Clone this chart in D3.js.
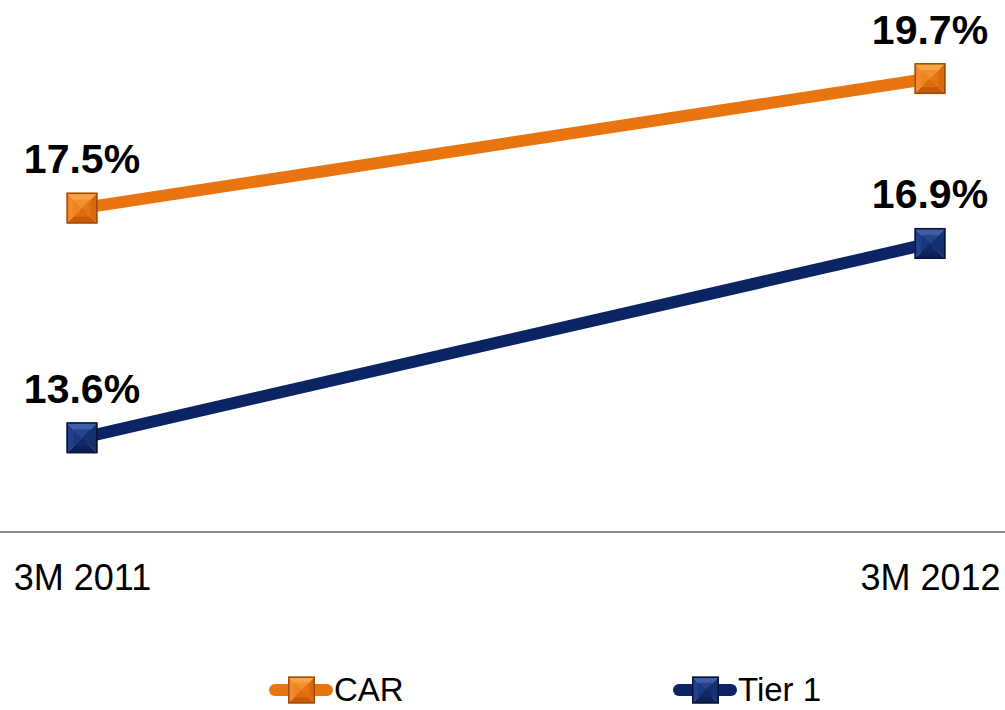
<!DOCTYPE html>
<html><head><meta charset="utf-8">
<script src="https://cdn.jsdelivr.net/npm/d3@7"></script>
<style>html,body{margin:0;padding:0;background:#fff;}svg{display:block;}</style>
</head><body>
<svg id="chart" width="1005" height="710"></svg>
<script>
const categories = ["3M 2011", "3M 2012"];
const seriesNames = ["CAR", "Tier 1"];
const carValues = [17.5, 19.7];
const tier1Values = [13.6, 16.9];
const yDomain = [12, 21];

const palette = {
  "CAR": {line:"#E97510", top:"#F8A447", left:"#F08A2A", right:"#DB680C", bottom:"#C65A06", face:"#EE7E18", border:"#A24B08"},
  "Tier 1": {line:"#0B2463", top:"#3C5EA6", left:"#223F8A", right:"#16316F", bottom:"#0D2154", face:"#133077", border:"#06143D"}
};

const series = [
  {name:"CAR", values:carValues},
  {name:"Tier 1", values:tier1Values}
];

const svg = d3.select("#chart");
const x = d3.scalePoint().domain(categories).range([82, 930]);
const y = d3.scaleLinear().domain(yDomain).range([532, 2]);

function drawMarker(g, cx, cy, s, c) {
  const h = s/2;
  const m = g.append("g").attr("transform", `translate(${cx},${cy})`);
  const tri = (pts, fill) => m.append("path").attr("d", "M" + pts.map(p=>p.join(",")).join("L") + "Z").attr("fill", fill);
  tri([[-h,-h],[h,-h],[0,0]], c.top);
  tri([[-h,-h],[-h,h],[0,0]], c.left);
  tri([[h,-h],[h,h],[0,0]], c.right);
  tri([[-h,h],[h,h],[0,0]], c.bottom);
  const i = h*0.55;
  m.append("rect").attr("x",-i).attr("y",-i).attr("width",2*i).attr("height",2*i).attr("fill",c.face).attr("opacity",0.55);
  m.append("rect").attr("x",-h+0.75).attr("y",-h+0.75).attr("width",s-1.5).attr("height",s-1.5)
    .attr("fill","none").attr("stroke",c.border).attr("stroke-width",1.5);
}

// axis
const xAxis = d3.axisBottom(x).tickSize(0).tickPadding(0);
const ax = svg.append("g").attr("transform", `translate(0,${y(yDomain[0])})`).call(xAxis);
ax.select(".domain").remove();
ax.selectAll("text").attr("dy", null).attr("y", 58)
  .attr("font-family", "Liberation Sans, Arial, sans-serif").attr("font-size", 36).attr("fill", "#000");
svg.append("line").attr("x1", 0).attr("x2", 1005)
  .attr("y1", y(yDomain[0])).attr("y2", y(yDomain[0]))
  .attr("stroke", "#8a8a8a").attr("stroke-width", 2);

const line = d3.line().x((d,i)=>x(categories[i])).y(d=>y(d));

series.forEach(s => {
  const c = palette[s.name];
  svg.append("path").datum(s.values).attr("d", line)
    .attr("fill","none").attr("stroke", c.line).attr("stroke-width", 12);
});
series.forEach(s => {
  const c = palette[s.name];
  s.values.forEach((v,i) => {
    drawMarker(svg, x(categories[i]), y(v), 31, c);
    svg.append("text").attr("x", x(categories[i])).attr("y", y(v) - 35)
      .attr("text-anchor","middle").attr("font-family","Liberation Sans, Arial, sans-serif")
      .attr("font-weight","bold").attr("font-size", 41).attr("fill","#000")
      .text(v.toFixed(1) + "%");
  });
});

// legend
const legendX = [269, 673];
const ly = 690;
series.forEach((s, i) => {
  const c = palette[s.name];
  const g = svg.append("g");
  const x0 = legendX[i];
  g.append("line").attr("x1", x0+6).attr("x2", x0+58).attr("y1", ly).attr("y2", ly)
    .attr("stroke", c.line).attr("stroke-width", 12).attr("stroke-linecap","round");
  drawMarker(g, x0+32.5, ly, 27, c);
  g.append("text").attr("x", x0+65).attr("y", 701)
    .attr("font-family","Liberation Sans, Arial, sans-serif").attr("font-size", 33).attr("fill","#000")
    .text(s.name);
});
</script>
</body></html>
